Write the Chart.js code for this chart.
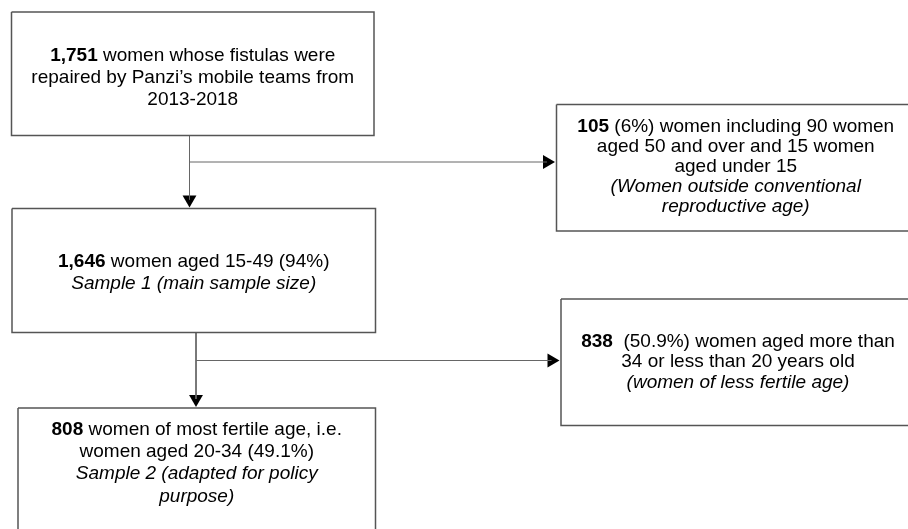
<!DOCTYPE html>
<html>
<head>
<meta charset="utf-8">
<script src="https://cdn.jsdelivr.net/npm/chart.js@4.4.1/dist/chart.umd.min.js"></script>
<style>
  html, body { margin: 0; padding: 0; background: #fff; }
  #wrap { width: 908px; height: 529px; position: relative; }
</style>
</head>
<body>
<div id="wrap"><canvas id="flow"></canvas></div>
<script>
// flow steps: how many women at each stage
const stepIds = ['all', 'outside', 'main', 'less', 'fertile'];
const stepCounts = ['1,751', '105', '1,646', '838', '808'];
// text per box, **bold** and _italic_ marked
const stepLines = [
  ['**1,751** women whose fistulas were', 'repaired by Panzi\u2019s mobile teams from', '2013-2018'],
  ['**105** (6%) women including 90 women', 'aged 50 and over and 15 women', 'aged under 15', '_(Women outside conventional_', '_reproductive age)_'],
  ['**1,646** women aged 15-49 (94%)', '_Sample 1 (main sample size)_'],
  ['**838**  (50.9%) women aged more than', '34 or less than 20 years old', '_(women of less fertile age)_'],
  ['**808** women of most fertile age, i.e.', 'women aged 20-34 (49.1%)', '_Sample 2 (adapted for policy_', '_purpose)_']
];
// which box leads to which
const links = [['all', 'main', 'outside'], ['main', 'fertile', 'less']];

// layout (in page units, axes run 0..908 and 0..529)
const layout = {
  all:     { x0: 11.5, y0: 12,    x1: 374,   y1: 135.5, base: 61,    lh: 22 },
  outside: { x0: 556.5, y0: 104.5, x1: 915,  y1: 231,   base: 132,   lh: 20 },
  main:    { x0: 12,   y0: 208.5, x1: 375.5, y1: 332.5, base: 266.5, lh: 22.5 },
  less:    { x0: 561,  y0: 299,   x1: 915,   y1: 425.5, base: 346.5, lh: 20.5 },
  fertile: { x0: 18,   y0: 408,   x1: 375.5, y1: 560,   base: 435,   lh: 22.2 }
};
const trunkX = { all: 189.5, main: 196 };
const branchY = { all: 162, main: 360.5 };
const headR = 8;

const datasets = [];
stepIds.forEach(id => {
  const b = layout[id];
  datasets.push({
    type: 'line',
    data: [{x: b.x0, y: b.y0}, {x: b.x1, y: b.y0}, {x: b.x1, y: b.y1}, {x: b.x0, y: b.y1}, {x: b.x0, y: b.y0}],
    borderColor: '#555',
    borderWidth: 1.5,
    pointRadius: 0,
    tension: 0,
    fill: false
  });
});

const heads = [];
const headRot = [];
links.forEach(([from, down, side]) => {
  const x = trunkX[from];
  const yb = branchY[from];
  const tipDown = layout[down].y0 - 1;
  const tipSide = layout[side].x0 - 1.5;
  datasets.push({
    type: 'line',
    data: [{x: x, y: layout[from].y1}, {x: x, y: tipDown - headR}],
    borderColor: '#666', borderWidth: 1, pointRadius: 0, tension: 0
  });
  datasets.push({
    type: 'line',
    data: [{x: x, y: yb}, {x: tipSide - headR, y: yb}],
    borderColor: '#666', borderWidth: 1, pointRadius: 0, tension: 0
  });
  heads.push({x: x, y: tipDown - headR});
  headRot.push(180);
  heads.push({x: tipSide - headR, y: yb});
  headRot.push(90);
});
datasets.push({
  type: 'scatter',
  data: heads,
  pointStyle: 'triangle',
  rotation: headRot,
  pointRadius: headR,
  backgroundColor: '#000',
  borderColor: '#000',
  borderWidth: 0
});

const FONT = "'Liberation Sans', Arial, sans-serif";
function parseLine(s) {
  const segs = [];
  const re = /\*\*(.+?)\*\*|_(.+?)_|([^*_]+)/g;
  let m;
  while ((m = re.exec(s)) !== null) {
    if (m[1]) segs.push({t: m[1], f: 'bold 19px ' + FONT});
    else if (m[2]) segs.push({t: m[2], f: 'italic 19px ' + FONT});
    else segs.push({t: m[3], f: '19px ' + FONT});
  }
  return segs;
}

const boxText = {
  id: 'boxText',
  afterDatasetsDraw(chart) {
    const ctx = chart.ctx;
    const xs = chart.scales.x, ys = chart.scales.y;
    ctx.save();
    ctx.fillStyle = '#000';
    ctx.textBaseline = 'alphabetic';
    ctx.textAlign = 'left';
    stepIds.forEach((id, i) => {
      const b = layout[id];
      const cx = xs.getPixelForValue((b.x0 + b.x1) / 2);
      stepLines[i].forEach((line, k) => {
        const segs = parseLine(line);
        let w = 0;
        segs.forEach(sg => { ctx.font = sg.f; sg.w = ctx.measureText(sg.t).width; w += sg.w; });
        let x = cx - w / 2;
        const y = ys.getPixelForValue(b.base + k * b.lh);
        segs.forEach(sg => { ctx.font = sg.f; ctx.fillText(sg.t, x, y); x += sg.w; });
      });
    });
    ctx.restore();
  }
};

new Chart(document.getElementById('flow'), {
  type: 'scatter',
  data: { datasets: datasets },
  options: {
    responsive: true,
    maintainAspectRatio: false,
    animation: false,
    layout: { padding: 0, autoPadding: false },
    plugins: { legend: { display: false }, tooltip: { enabled: false } },
    scales: {
      x: { type: 'linear', min: 0, max: 908, display: false },
      y: { type: 'linear', min: 0, max: 529, reverse: true, display: false }
    }
  },
  plugins: [boxText]
});
</script>
</body>
</html>
